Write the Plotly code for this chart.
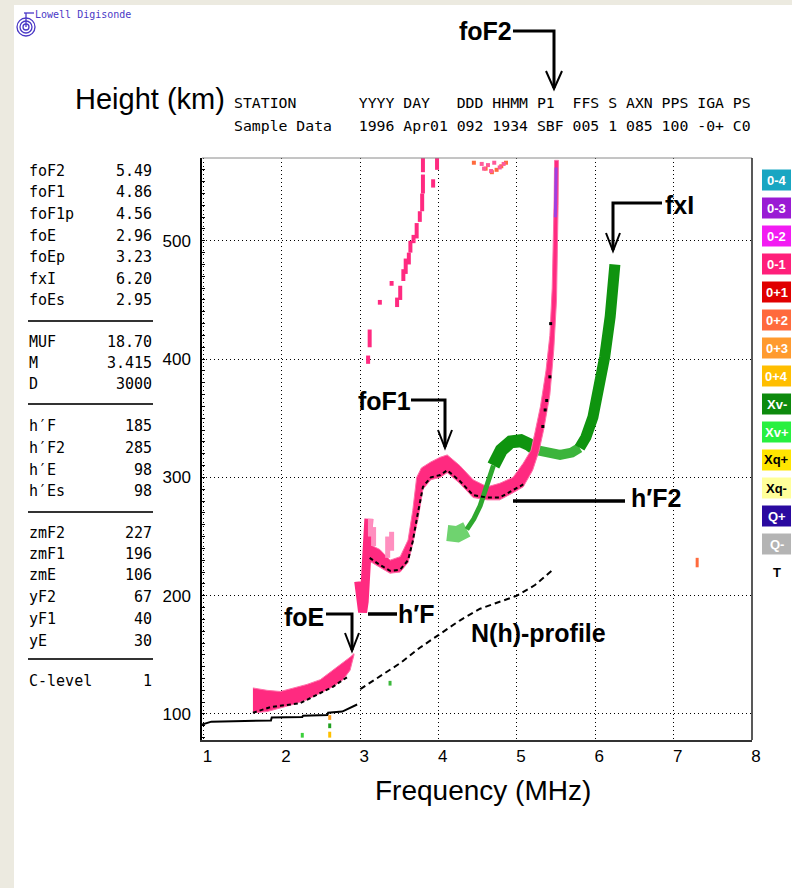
import plotly.graph_objects as go

# ---------------- figure geometry ----------------
FIG_W, FIG_H = 792, 888
L, T, PW, PH = 202, 158, 550, 582
X_RANGE = [0.98, 8.0]
Y_RANGE = [78, 570]


def px(x):
    return (x - L) / PW


def py(y):
    return (T + PH - y) / PH


MONO = "DejaVu Sans Mono, Liberation Mono, monospace"
SANS = "Liberation Sans, Arial, sans-serif"

# ---------------- data ----------------
freq_ticks = [1, 2, 3, 4, 5, 6, 7, 8]
height_ticks = [100, 200, 300, 400, 500]

# E-layer O trace band
e_freq = [1.63, 1.81, 1.98, 2.14, 2.32, 2.49, 2.65, 2.78, 2.87, 2.92]
e_top = [122, 120, 119, 122, 125, 129, 137, 143, 148, 151]
e_bot = [101, 102, 105, 108, 112, 118, 123, 129, 137, 150]

# F-layer O trace band: upper/left edge and lower/right edge
f_up_freq = [3.10, 3.25, 3.38, 3.51, 3.61, 3.67, 3.72, 3.78, 3.90, 4.02, 4.11, 4.27, 4.44, 4.62, 4.78,
             4.95, 5.08, 5.18, 5.23, 5.30, 5.37, 5.42, 5.45, 5.465, 5.475, 5.48]
f_up_h = [244, 239, 230, 233, 247, 272, 300, 308, 313, 317, 319, 310, 298, 292, 295,
          300, 312, 323, 338, 360, 390, 420, 460, 500, 535, 568]
f_lo_freq = [3.10, 3.25, 3.38, 3.51, 3.61, 3.67, 3.74, 3.80, 3.90, 4.02, 4.11, 4.27, 4.44, 4.62, 4.78,
             4.95, 5.08, 5.20, 5.28, 5.34, 5.42, 5.47, 5.505, 5.52, 5.525, 5.53]
f_lo_h = [230, 224, 219, 220, 228, 244, 266, 290, 298, 300, 304, 295, 283, 281, 281,
          287, 292, 306, 322, 340, 370, 408, 450, 492, 530, 568]

# cusp streak near 3 MHz (h'F)
cusp_freq = [2.98, 3.00, 3.03, 3.05, 3.07, 3.09, 3.11]
cusp_h = [212, 195, 186, 195, 220, 250, 265]

# light pink spread above the cusp
spread_f = [3.13, 3.17, 3.35, 3.40]
spread_lo = [250, 242, 232, 238]
spread_hi = [265, 258, 250, 254]

# upper scattered O echoes
up_f = [3.10, 3.12, 3.25, 3.40, 3.47, 3.51, 3.55, 3.58, 3.62, 3.64, 3.68, 3.72, 3.76, 3.79, 3.80, 3.80, 3.93, 3.98]
up_lo = [396, 410, 446, 462, 444, 450, 466, 472, 480, 490, 498, 502, 516, 525, 540, 558, 545, 560]
up_hi = [403, 425, 450, 466, 452, 462, 476, 485, 490, 500, 505, 515, 525, 540, 556, 570, 552, 570]

# O-3 (purple) overlay at top of F2 trace
o3_f = [5.49, 5.50]
o3_h = [520, 562]

# top scatter (O+2 and O-1)
orange_f = [4.45, 4.60, 4.68, 4.74, 4.80, 4.86]
orange_h = [566, 561, 558, 560, 563, 566]
pinkdot_f = [4.55, 4.58, 4.63, 4.67, 4.71, 4.78, 4.83]
pinkdot_h = [565, 561, 564, 559, 566, 562, 565]

# X trace (green)
xpatch_f = [4.11, 4.24, 4.36]
xpatch_h = [253, 252, 256]
xthin_f = [4.36, 4.45, 4.53, 4.62, 4.70]
xthin_h = [256, 265, 276, 293, 310]
xhump_f = [4.70, 4.80, 4.92, 5.05, 5.15, 5.25]
xhump_h = [310, 323, 330, 331, 328, 323]
xflat_f = [5.25, 5.40, 5.55, 5.70, 5.80]
xflat_h = [323, 320, 319, 321, 325]
xrise_f = [5.80, 5.88, 5.97, 6.06, 6.12, 6.19, 6.225, 6.25]
xrise_h = [325, 334, 351, 380, 402, 436, 464, 480]

# scaled trace (black)
ebk_f = [1.63, 1.86, 2.23, 2.45, 2.65, 2.83]
ebk_h = [101, 106, 109, 116, 123, 131]
fbk_f = [3.12, 3.25, 3.38, 3.51, 3.61, 3.67, 3.73, 3.80, 3.90, 4.02, 4.11, 4.27, 4.44, 4.62, 4.78, 4.95, 5.08]
fbk_h = [232, 226, 221, 222, 230, 246, 268, 292, 300, 302, 306, 297, 285, 283, 283, 289, 294]
bkdot_f = [5.43, 5.42, 5.38, 5.36, 5.33]
bkdot_h = [430, 385, 365, 357, 343]

# N(h) profile
nh_low_f = [0.98, 1.10, 1.86, 1.87, 2.26, 2.27, 2.58, 2.59, 2.77, 2.96]
nh_low_h = [91, 93.5, 94.5, 97, 97.5, 98.5, 99.2, 101, 102, 108]
nh_f = [3.00, 3.25, 3.51, 3.76, 4.02, 4.27, 4.53, 4.78, 5.00, 5.23, 5.46]
nh_h = [121, 131.5, 143, 156, 168, 179, 189, 195, 200, 209, 222]

# small isolated echoes
blip_f = [7.30, 3.38, 2.26, 2.61, 2.61, 2.61]
blip_lo = [224, 124, 80, 95, 88, 80]
blip_hi = [232, 128, 84, 99, 92, 85]
blip_c = ["#ff6a3d", "#3cb83c", "#3cd03c", "#ffa020", "#20a020", "#ffc000"]

# parameter table
param_names = ["foF2", "foF1", "foF1p", "foE", "foEp", "fxI", "foEs",
               "MUF", "M", "D",
               "h\u2032F", "h\u2032F2", "h\u2032E", "h\u2032Es",
               "zmF2", "zmF1", "zmE", "yF2", "yF1", "yE",
               "C-level"]
param_values = ["5.49", "4.86", "4.56", "2.96", "3.23", "6.20", "2.95",
                "18.70", "3.415", "3000",
                "185", "285", "98", "98",
                "227", "196", "106", "67", "40", "30",
                "1"]
param_rows_y = [171, 192, 214, 236, 257, 279, 300,
                342, 363, 384,
                426, 448, 470, 491,
                533, 554, 575, 597, 619, 641,
                681]
sep_rows_y = [321, 404, 512, 659]

# header
header_keys = ["STATION", "YYYY", "DAY", "DDD", "HHMM", "P1", "FFS", "S", "AXN", "PPS", "IGA", "PS"]
header_vals = ["Sample Data", "1996", "Apr01", "092", "1934", "SBF", "005", "1", "085", "100", "-0+", "C0"]
header_cols = [0, 14, 19, 25, 29, 34, 38, 42, 44, 48, 52, 56]

# status legend
legend_labels = ["0-4", "0-3", "0-2", "0-1", "0+1", "0+2", "0+3", "0+4",
                 "Xv-", "Xv+", "Xq+", "Xq-", "Q+", "Q-", "T"]
legend_colors = ["#19a6c2", "#9a1bd4", "#f21cf2", "#ff1f7a", "#e00000", "#ff6a3d", "#ff9a2e", "#ffbe00",
                 "#0d8a0d", "#28f040", "#ffe500", "#ffff9a", "#2a0aa0", "#b4b4b4", None]
legend_text_colors = ["white"] * 10 + ["black", "black", "white", "white", "black"]

# ---------------- build figure ----------------
fig = go.Figure()


def add_line(xs, ys, color, width, dash=None, mode="lines"):
    fig.add_trace(go.Scatter(x=xs, y=ys, mode=mode,
                             line=dict(color=color, width=width, dash=dash),
                             hoverinfo="skip", showlegend=False))


def streak_xy(fs, lo, hi):
    xs, ys = [], []
    for f, a, b in zip(fs, lo, hi):
        xs += [f, f, None]
        ys += [a, b, None]
    return xs, ys


# N(h) profile
add_line(nh_low_f, nh_low_h, "black", 2)
add_line(nh_f, nh_h, "black", 2, dash="6px,4px")

# green X trace (below pink)
add_line(xpatch_f, xpatch_h, "#6fd36f", 16)
add_line(xhump_f, xhump_h, "#0f940f", 13)
add_line(xflat_f, xflat_h, "#3cb43c", 10)
add_line(xrise_f, xrise_h, "#0f940f", 11)

# E trace band
fig.add_trace(go.Scatter(x=e_freq + e_freq[::-1], y=e_top + e_bot[::-1], mode="lines",
                         fill="toself", fillcolor="#ff2a80", line=dict(color="#ff6fa8", width=1),
                         hoverinfo="skip", showlegend=False))
# F trace band
fig.add_trace(go.Scatter(x=f_up_freq + f_lo_freq[::-1], y=f_up_h + f_lo_h[::-1], mode="lines",
                         fill="toself", fillcolor="#ff2a80", line=dict(color="#ff6fa8", width=1),
                         hoverinfo="skip", showlegend=False))
add_line(cusp_freq, cusp_h, "#ff2a80", 9)
sx, sy = streak_xy(spread_f, spread_lo, spread_hi)
add_line(sx, sy, "#ff8fbf", 5)
ux, uy = streak_xy(up_f, up_lo, up_hi)
add_line(ux, uy, "#ff2a80", 4)
add_line(o3_f, o3_h, "#a040e0", 3)

# thin green rising line over pink
add_line(xthin_f, xthin_h, "#2ea82e", 5)

# top scatter
fig.add_trace(go.Scatter(x=orange_f, y=orange_h, mode="markers",
                         marker=dict(symbol="square", size=4, color="#ff6a3d"),
                         hoverinfo="skip", showlegend=False))
fig.add_trace(go.Scatter(x=pinkdot_f, y=pinkdot_h, mode="markers",
                         marker=dict(symbol="square", size=4, color="#ff5a9a"),
                         hoverinfo="skip", showlegend=False))

# scaled trace in black
add_line(ebk_f, ebk_h, "black", 2, dash="4px,3px")
add_line(fbk_f, fbk_h, "black", 2, dash="4px,3px")
fig.add_trace(go.Scatter(x=bkdot_f, y=bkdot_h, mode="markers",
                         marker=dict(symbol="square", size=3, color="black"),
                         hoverinfo="skip", showlegend=False))

# isolated echoes
for f, a, b, c in zip(blip_f, blip_lo, blip_hi, blip_c):
    add_line([f, f], [a, b], c, 3)

shapes = []
annotations = []

# background strips
BEIGE = "#ecEAE0"
shapes.append(dict(type="rect", xref="paper", yref="paper", x0=px(0), x1=px(14), y0=py(888), y1=py(0),
                   fillcolor=BEIGE, line=dict(width=0), layer="below"))
shapes.append(dict(type="rect", xref="paper", yref="paper", x0=px(0), x1=px(792), y0=py(5), y1=py(0),
                   fillcolor=BEIGE, line=dict(width=0), layer="below"))

# frame top & right
shapes.append(dict(type="line", xref="paper", yref="paper", x0=0, x1=1, y0=1, y1=1,
                   line=dict(color="#8a8a8a", width=1)))
shapes.append(dict(type="line", xref="paper", yref="paper", x0=1, x1=1, y0=0, y1=1,
                   line=dict(color="#222", width=1.5)))

# logo
LOGO = "#4a38c6"
for r in [3, 6, 9]:
    shapes.append(dict(type="circle", xref="paper", yref="paper",
                       x0=px(26 - r), x1=px(26 + r), y0=py(27 + r), y1=py(27 - r),
                       line=dict(color=LOGO, width=1.3)))
shapes.append(dict(type="line", xref="paper", yref="paper", x0=px(24), x1=px(34), y0=py(13), y1=py(13),
                   line=dict(color=LOGO, width=1.3)))
shapes.append(dict(type="line", xref="paper", yref="paper", x0=px(26), x1=px(26), y0=py(13), y1=py(27),
                   line=dict(color=LOGO, width=1.3)))
annotations.append(dict(text="Lowell\u00a0Digisonde", xref="paper", yref="paper", x=px(33), y=py(14),
                        xanchor="left", yanchor="middle", showarrow=False,
                        font=dict(family=MONO, size=10, color=LOGO)))


# header lines
def build_row(items):
    s = ""
    for col, it in zip(header_cols, items):
        s = s.ljust(col) + it
    return s.replace(" ", "\u00a0")


annotations.append(dict(text=build_row(header_keys), xref="paper", yref="paper", x=px(232), y=py(103),
                        xanchor="left", yanchor="middle", showarrow=False,
                        font=dict(family=MONO, size=14.8, color="black")))
annotations.append(dict(text=build_row(header_vals), xref="paper", yref="paper", x=px(232), y=py(126),
                        xanchor="left", yanchor="middle", showarrow=False,
                        font=dict(family=MONO, size=14.8, color="black")))

# big axis titles
annotations.append(dict(text="Height (km)", xref="paper", yref="paper", x=px(150), y=py(99),
                        xanchor="center", yanchor="middle", showarrow=False,
                        font=dict(family=SANS, size=29, color="black")))
annotations.append(dict(text="Frequency (MHz)", xref="paper", yref="paper", x=px(483), y=py(790),
                        xanchor="center", yanchor="middle", showarrow=False,
                        font=dict(family=SANS, size=28, color="black")))

# parameter table
for name, val, y in zip(param_names, param_values, param_rows_y):
    annotations.append(dict(text=name, xref="paper", yref="paper", x=px(27), y=py(y),
                            xanchor="left", yanchor="middle", showarrow=False,
                            font=dict(family=MONO, size=15, color="black")))
    annotations.append(dict(text=val, xref="paper", yref="paper", x=px(154), y=py(y),
                            xanchor="right", yanchor="middle", showarrow=False,
                            font=dict(family=MONO, size=15, color="black")))
for y in sep_rows_y:
    shapes.append(dict(type="line", xref="paper", yref="paper", x0=px(28), x1=px(153), y0=py(y), y1=py(y),
                       line=dict(color="#333", width=2)))

# status legend
for i, (lab, col, tcol) in enumerate(zip(legend_labels, legend_colors, legend_text_colors)):
    yc = 180 + 28 * i
    if col:
        shapes.append(dict(type="rect", xref="paper", yref="paper", x0=px(762), x1=px(791),
                           y0=py(yc + 10.5), y1=py(yc - 10.5), fillcolor=col, line=dict(width=0)))
    annotations.append(dict(text=lab, xref="paper", yref="paper", x=px(776.5), y=py(yc),
                            xanchor="center", yanchor="middle", showarrow=False,
                            font=dict(family=SANS, size=13, color=tcol, weight="bold")))


# labelled arrows
def path(points):
    return "M " + " L ".join(f"{px(a):.5f},{py(b):.5f}" for a, b in points)


def add_path(points, width):
    shapes.append(dict(type="path", xref="paper", yref="paper", path=path(points),
                       line=dict(color="black", width=width)))


def add_label(text, x, y):
    annotations.append(dict(text=text, xref="paper", yref="paper", x=px(x), y=py(y),
                            xanchor="center", yanchor="middle", showarrow=False,
                            font=dict(family=SANS, size=25, color="black", weight="bold")))


add_label("foF2", 485, 31)
add_path([(513, 31), (554, 31), (554, 88)], 3)
add_path([(546, 71), (554, 89), (562, 71)], 2)

add_label("foF1", 384, 401)
add_path([(411, 400), (445, 400), (445, 447)], 3)
add_path([(438, 430), (445, 448), (452, 430)], 2)

add_label("fxI", 679, 205)
add_path([(662, 203), (613, 203), (613, 250)], 3)
add_path([(606, 233), (613, 251), (620, 233)], 2)

add_label("h\u2032F2", 656, 498)
add_path([(513, 501), (625, 501)], 3.5)

add_label("foE", 304, 617)
add_path([(326, 614), (352, 614), (352, 650)], 3)
add_path([(345, 633), (352, 651), (359, 633)], 2)

add_label("h\u2032F", 416, 614)
add_path([(368, 614), (397, 614)], 3.5)

add_label("N(h)-profile", 538, 633)

fig.update_layout(
    width=FIG_W, height=FIG_H,
    margin=dict(l=L, r=FIG_W - L - PW, t=T, b=FIG_H - T - PH, pad=0),
    paper_bgcolor="white", plot_bgcolor="white",
    showlegend=False, hovermode=False,
    shapes=shapes, annotations=annotations,
    xaxis=dict(range=X_RANGE, tickvals=freq_ticks, ticktext=[str(v) for v in freq_ticks],
               showgrid=True, gridcolor="black", griddash="1px,3px", gridwidth=1,
               zeroline=False, showline=True, linecolor="#333", linewidth=2,
               ticks="", ticklabelshift=4,
               tickfont=dict(family=SANS, size=17, color="black"), fixedrange=True),
    yaxis=dict(range=Y_RANGE, tickvals=height_ticks, ticktext=[str(v) for v in height_ticks],
               showgrid=True, gridcolor="black", griddash="1px,3px", gridwidth=1,
               zeroline=False, showline=True, linecolor="black", linewidth=1.5,
               ticks="inside", ticklen=3, tickcolor="black",
               minor=dict(dtick=10, ticks="inside", ticklen=3, tickcolor="black", showgrid=False),
               ticklabelstandoff=6,
               tickfont=dict(family=SANS, size=17, color="black"), fixedrange=True),
)

fig.write_html("out.html", config={"displayModeBar": False},
               post_script="document.body.style.margin='0px';document.body.style.overflow='hidden';")
